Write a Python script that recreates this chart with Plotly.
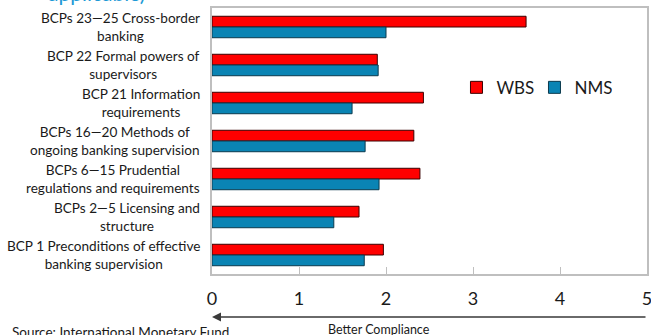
import plotly.graph_objects as go

categories = [
    "BCPs 23—25 Cross-border<br>banking",
    "BCP 22 Formal powers of<br>supervisors",
    "BCP 21 Information<br>requirements",
    "BCPs 16—20 Methods of<br>ongoing banking supervision",
    "BCPs 6—15 Prudential<br>regulations and requirements",
    "BCPs 2—5 Licensing and<br>structure",
    "BCP 1 Preconditions of effective<br>banking supervision",
]
wbs = [3.61, 1.90, 2.43, 2.32, 2.39, 1.69, 1.97]
nms = [2.00, 1.91, 1.61, 1.76, 1.92, 1.40, 1.75]
x_ticks = [0, 1, 2, 3, 4, 5]

RED = "#FF0000"
BLUE = "#0A84B4"

fig = go.Figure()
fig.add_trace(go.Bar(y=categories, x=wbs, name="WBS", orientation="h",
                     marker=dict(color=RED, line=dict(color="#3a0000", width=1))))
fig.add_trace(go.Bar(y=categories, x=nms, name="NMS", orientation="h",
                     marker=dict(color=BLUE, line=dict(color="#0b3a4e", width=1))))

# category labels (centered lines, right-aligned block)
for c in categories:
    fig.add_annotation(x=0, xref="paper", y=c, yref="y", text=c, showarrow=False,
                       xanchor="right", yanchor="middle", align="center", xshift=-10,
                       font=dict(family="Lato", size=13.6, color="#1a1a1a"))

AX = "#bfbfbf"
fig.update_layout(
    width=651, height=335,
    margin=dict(l=212, r=4, t=8, b=61, autoexpand=False),
    plot_bgcolor="white", paper_bgcolor="white",
    barmode="group", bargap=0.436, bargroupgap=0,
    font=dict(family="Lato", color="#1a1a1a"),
    showlegend=True,
    legend=dict(orientation="h", x=0.562, y=0.70, xanchor="left", yanchor="middle",
                font=dict(size=17, family="Lato"), itemwidth=30, entrywidth=33,
                traceorder="normal", bgcolor="rgba(0,0,0,0)"),
    xaxis=dict(range=[0, 5], tickvals=x_ticks, ticktext=[str(t) for t in x_ticks],
               showgrid=False, zeroline=False, showline=True, linecolor=AX, linewidth=1.5,
               mirror=True, ticks="inside", ticklen=7, tickcolor=AX, tickwidth=1,
               tickfont=dict(size=18, family="Lato", color="#1a1a1a"),
               ticklabelstandoff=8, ticklabeloverflow="allow",
               automargin=False, fixedrange=True),
    yaxis=dict(autorange="reversed", showticklabels=False, showgrid=False, zeroline=False,
               showline=True, linecolor=AX, linewidth=1.5, mirror=True, ticks="",
               automargin=False, fixedrange=True),
)

# title fragment (cut off at the top)
fig.add_annotation(text="applicable)", xref="paper", yref="paper", x=-0.382, y=1.058,
                   xanchor="left", yanchor="middle", showarrow=False,
                   font=dict(size=21, family="Lato", color="#1E9AD6"))

# arrow: better compliance toward 0
fig.add_annotation(x=0, y=-0.162, xref="x", yref="paper", ax=5, ay=0, axref="x", ayref="pixel",
                   showarrow=True, arrowhead=2, arrowsize=1.2, arrowwidth=1.5,
                   arrowcolor="#3a3a3a", text="")
fig.add_annotation(text="Better Compliance", xref="paper", yref="paper", x=0.383, y=-0.207,
                   xanchor="center", yanchor="middle", showarrow=False,
                   font=dict(size=12.5, family="Lato", color="#1a1a1a"))
fig.add_annotation(text="Source: International Monetary Fund", xref="paper", yref="paper",
                   x=-0.464, y=-0.218, xanchor="left", yanchor="middle", showarrow=False,
                   font=dict(size=13.5, family="Lato", color="#1a1a1a"))

fig.write_html("out.html", config={"displayModeBar": False},
               post_script="document.body.style.margin='0';")
